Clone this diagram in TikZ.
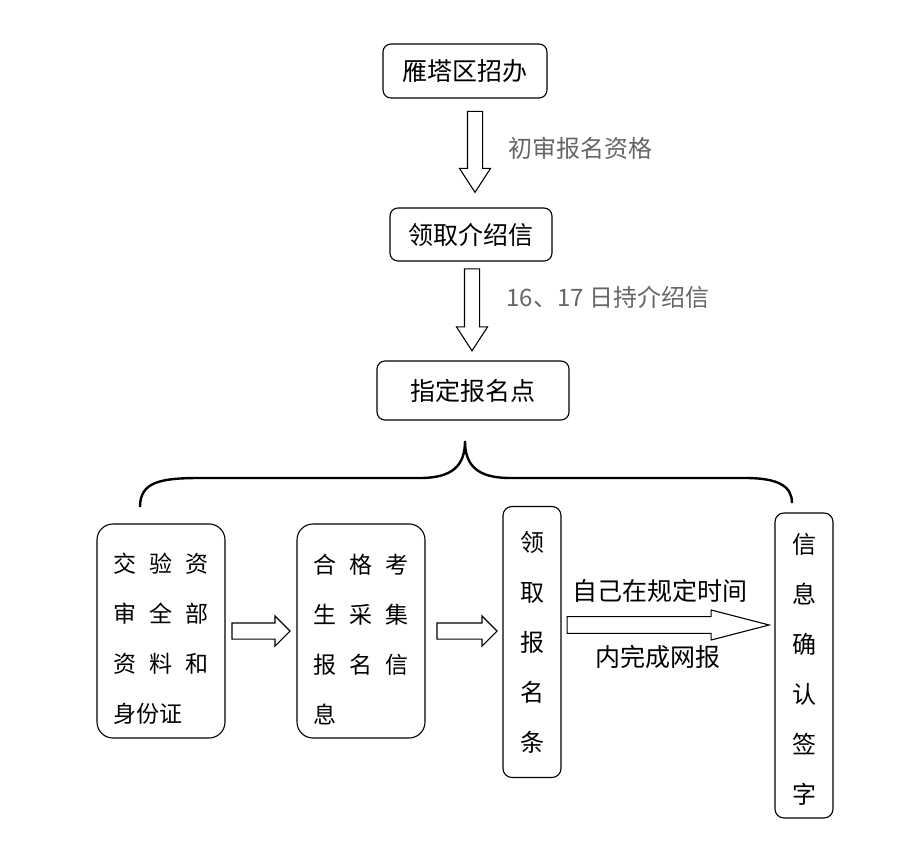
\documentclass[tikz,border=0pt]{standalone}
\usepackage{fontspec}
\setmainfont{Noto Sans CJK SC}
\usetikzlibrary{calc,shapes.arrows}
\newcommand{\gp}{\hspace{13pt}}
\newcommand{\toprow}{\rule{0pt}{36pt}}
\tikzset{
  stepbox/.style={draw, rectangle, rounded corners=8pt, line width=1.1pt, inner sep=2pt,
    font=\fontsize{25}{28}\selectfont},
  gridbox/.style={draw, rectangle, rounded corners=16pt, line width=1.1pt,
    minimum width=128pt, minimum height=214pt, align=left,
    inner sep=0pt, font=\fontsize{23}{50}\selectfont},
  colbox/.style={draw, rectangle, rounded corners=9pt, line width=1.1pt,
    minimum width=58pt, align=center, font=\fontsize{24}{50}\selectfont},
  hollow/.style={draw, single arrow, line width=1.1pt, inner sep=7pt,
    single arrow head extend=8pt, minimum width=30pt},
  note/.style={text=black!60, anchor=west, font=\fontsize{24}{28}\selectfont}
}

\begin{document}
\begin{tikzpicture}[x=1pt, y=-1pt]
  \useasboundingbox[fill=white] (0,0) rectangle (908,845);

  % upper chain
  \node at (465, 71) [stepbox, minimum width=164pt, minimum height=54pt] (zhaoban) {雁塔区招办};
  \node at (471, 234.5) [stepbox, minimum width=162pt, minimum height=53pt] (jieshao) {领取介绍信};
  \node at (473, 390.5) [stepbox, minimum width=192pt, minimum height=59pt] (baoming) {指定报名点};

  \node at ($ (zhaoban.south)!0.5!(jieshao.north) + (7,-7) $)
    [hollow, shape border rotate=270, minimum height=81pt, single arrow tip angle=66] (arr1) {};
  \node at ($ (jieshao.south)!0.5!(baoming.north) + (0,-7) $)
    [hollow, shape border rotate=270, minimum height=82pt, single arrow tip angle=66] (arr2) {};

  \node at (505, 148) [note] (chushen) {初审报名资格};
  \node at (503, 297) [note] (chixin) {16、17 日持介绍信};

  % brace
  \draw[line width=2.4pt] (140,507) .. controls (140,482) and (160,478) .. (200,478)
    -- (420,478) .. controls (452,478) and (465,466) .. (465,441)
    .. controls (465,466) and (478,478) .. (510,478)
    -- (745,478) .. controls (778,478) and (792,486) .. (792,503);

  % lower row
  \node at (161, 631) [gridbox] (shenhe)
    {\toprow 交\gp 验\gp 资\\审\gp 全\gp 部\\资\gp 料\gp 和\\身份证};
  \node at (361, 631) [gridbox] (caiji)
    {\toprow 合\gp 格\gp 考\\生\gp 采\gp 集\\报\gp 名\gp 信\\息};
  \node at (532, 642) [colbox, minimum height=271pt] (tiao)
    {领\\取\\报\\名\\条};
  \node at (804, 665.5) [colbox, minimum height=305pt] (queren)
    {\rule{0pt}{28pt}信\\息\\确\\认\\签\\字};

  \node at ($ (shenhe.east)!0.5!(caiji.west) + (-4,0) $)
    [hollow, minimum height=58pt, inner sep=7.5pt, single arrow head extend=7pt] (arr3) {};
  \node at ($ (caiji.east)!0.5!(caiji.east -| tiao.west) + (-1,0) $)
    [hollow, minimum height=60pt, inner sep=7.5pt, single arrow head extend=7pt] (arr4) {};
  \node at (652, 625)
    [hollow, minimum height=202pt, single arrow head extend=6pt, single arrow tip angle=29] (arr5) {};

  \node at ($ (arr5.north) + (8,-25) $) [font=\fontsize{25}{28}\selectfont] (shangwang) {自己在规定时间};
  \node at ($ (arr5.south) + (6,23) $) [font=\fontsize{25}{28}\selectfont] (wangbao) {内完成网报};
\end{tikzpicture}
\end{document}
